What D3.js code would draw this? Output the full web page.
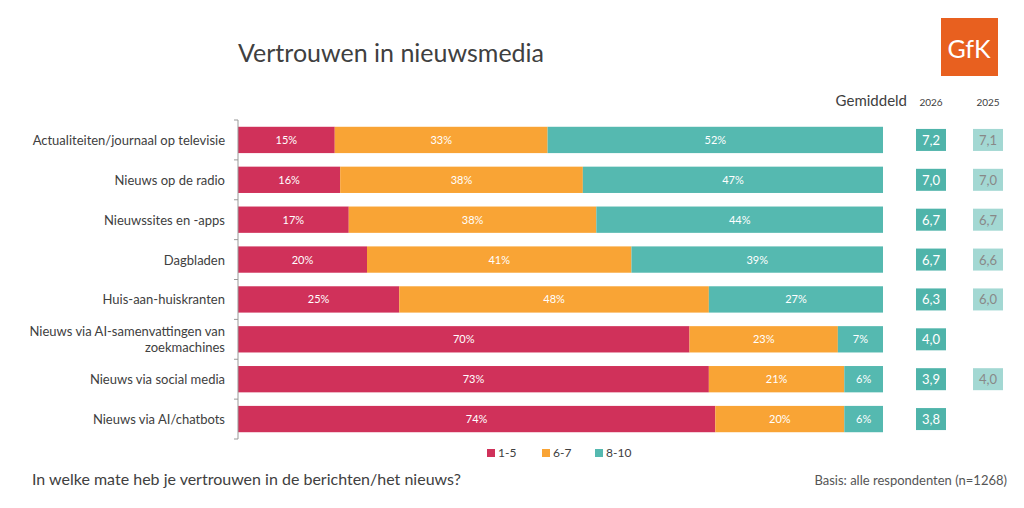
<!DOCTYPE html>
<html><head><meta charset="utf-8">
<script src="https://cdn.jsdelivr.net/npm/d3@7"></script>
<style>body{margin:0;background:#fff;font-family:Lato,sans-serif}</style>
</head><body><svg id="c" width="1024" height="508"></svg>
<script>
const categories=["Actualiteiten/journaal op televisie","Nieuws op de radio","Nieuwssites en -apps","Dagbladen","Huis-aan-huiskranten","Nieuws via AI-samenvattingen van|zoekmachines","Nieuws via social media","Nieuws via AI/chatbots"];
const low=[15,16,17,20,25,70,73,74];
const mid=[33,38,38,41,48,23,21,20];
const high=[52,47,44,39,27,7,6,6];
const avg2026=["7,2","7,0","6,7","6,7","6,3","4,0","3,9","3,8"];
const avg2025=["7,1","7,0","6,7","6,6","6,0",null,"4,0",null];
const seriesNames=["1-5","6-7","8-10"];
const colors=["#D0315A","#F9A435","#55B9B0"];

const svg=d3.select("#c");
const x=d3.scaleLinear().domain([0,1]).range([238,883]);
const y=d3.scaleBand().domain(categories).range([120,439]).paddingInner(0.34).paddingOuter(0.17);
svg.append("text").attr("x",238).attr("y",62).attr("font-size",25).attr("fill","#404040").text("Vertrouwen in nieuwsmedia");
svg.append("rect").attr("x",941).attr("y",18).attr("width",57).attr("height",58).attr("fill","#E8601F");
svg.append("text").attr("x",969).attr("y",58).attr("text-anchor","middle").attr("font-size",25).attr("fill","#fff").text("GfK");
svg.append("text").attr("x",907).attr("y",106).attr("text-anchor","end").attr("font-size",15).attr("fill","#404040").text("Gemiddeld");
svg.append("text").attr("x",931).attr("y",106).attr("text-anchor","middle").attr("font-size",10).attr("fill","#404040").text("2026");
svg.append("text").attr("x",988).attr("y",106).attr("text-anchor","middle").attr("font-size",10).attr("fill","#404040").text("2025");

const rows=categories.map((c,i)=>({c,v:[low[i],mid[i],high[i]]}));
rows.forEach((r,i)=>{
  let acc=0;const tot=d3.sum(r.v);
  r.v.forEach((v,k)=>{
    const a=acc/tot,b=(acc+v)/tot;
    svg.append("rect").attr("x",x(a)).attr("y",y(r.c)).attr("width",x(b)-x(a)).attr("height",y.bandwidth()).attr("fill",colors[k]);
    svg.append("text").attr("x",(x(a)+x(b))/2).attr("y",y(r.c)+y.bandwidth()/2+4).attr("text-anchor","middle").attr("font-size",11).attr("fill","#fff").text(v+"%");
    acc+=v;
  });
  const lines=r.c.split("|");
  lines.forEach((l,j)=>svg.append("text").attr("x",225).attr("y",y(r.c)+y.bandwidth()/2+5+(j-(lines.length-1)/2)*16).attr("text-anchor","end").attr("font-size",13).attr("fill","#404040").text(l));
  const cy=y(r.c)+y.bandwidth()/2;
  svg.append("rect").attr("x",916).attr("y",cy-11).attr("width",30).attr("height",22).attr("fill","#4FB4AA");
  svg.append("text").attr("x",931).attr("y",cy+5).attr("text-anchor","middle").attr("font-size",13).attr("fill","#fff").text(avg2026[i]);
  if(avg2025[i]){
    svg.append("rect").attr("x",973).attr("y",cy-11).attr("width",30).attr("height",22).attr("fill","#A3D8D3");
    svg.append("text").attr("x",988).attr("y",cy+5).attr("text-anchor","middle").attr("font-size",13).attr("fill","#888").text(avg2025[i]);
  }
});
svg.append("line").attr("x1",238).attr("x2",238).attr("y1",120).attr("y2",439).attr("stroke","#999");
categories.forEach(c=>{const yy=y(c)-y.step()*y.paddingInner()/2;svg.append("line").attr("x1",234).attr("x2",238).attr("y1",yy).attr("y2",yy).attr("stroke","#999");});
svg.append("line").attr("x1",234).attr("x2",238).attr("y1",439).attr("y2",439).attr("stroke","#999");
seriesNames.forEach((s,k)=>{
  const gx=[487,542,595][k];
  svg.append("rect").attr("x",gx).attr("y",449).attr("width",8).attr("height",8).attr("fill",colors[k]);
  svg.append("text").attr("x",gx+11).attr("y",457).attr("font-size",12).attr("fill","#404040").text(s);
});
svg.append("text").attr("x",32).attr("y",485).attr("font-size",16).attr("fill","#404040").text("In welke mate heb je vertrouwen in de berichten/het nieuws?");
svg.append("text").attr("x",1007).attr("y",485).attr("text-anchor","end").attr("font-size",13).attr("fill","#555").text("Basis: alle respondenten (n=1268)");
</script></body></html>
